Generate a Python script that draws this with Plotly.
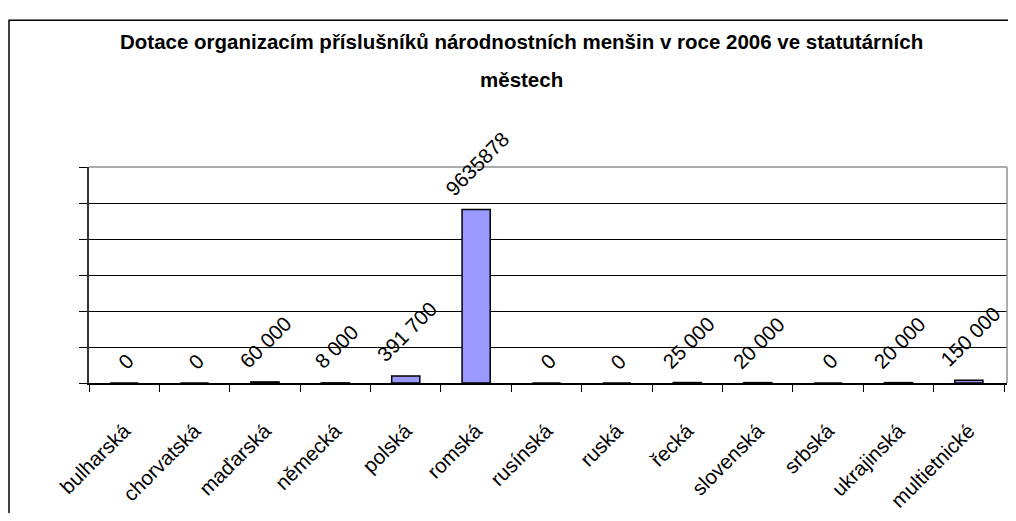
import plotly.graph_objects as go

categories = ["bulharská", "chorvatská", "maďarská", "německá", "polská", "romská",
              "rusínská", "ruská", "řecká", "slovenská", "srbská", "ukrajinská", "multietnické"]
values = [0, 0, 60000, 8000, 391700, 9635878, 0, 0, 25000, 20000, 0, 20000, 150000]
value_labels = ["0", "0", "60 000", "8 000", "391 700", "9635878", "0", "0",
                "25 000", "20 000", "0", "20 000", "150 000"]
title_line1 = "Dotace organizacím příslušníků národnostních menšin v roce 2006 ve statutárních"
title_line2 = "městech"

FONT = "Liberation Sans, Arial, sans-serif"
OFF = 8  # page body margin
W, H = 1000, 505
L, T = 89 - OFF, 167 - OFF
R = 1
B = H - (395 - OFF)
pw = W - L - R
ph = H - T - B

def px_x(x):
    return (x - OFF - L) / pw

def px_y(y):
    return (H - B - (y - OFF)) / ph

fig = go.Figure()
fig.add_trace(go.Bar(
    x=categories, y=values, width=0.4,
    marker=dict(color="#9999FF", line=dict(color="#000000", width=1.5)),
    hoverinfo="x+y",
))

for c, v, t in zip(categories, values, value_labels):
    fig.add_annotation(x=c, y=v, text=t, showarrow=False, textangle=-45,
                       xanchor="center", yanchor="bottom", yshift=7, xshift=1,
                       font=dict(family=FONT, size=20.5, color="#000000"))

fig.add_annotation(xref="paper", yref="paper", x=px_x(521), y=px_y(34), text="<b>%s</b>" % title_line1,
                   showarrow=False, xanchor="center", yanchor="middle",
                   font=dict(family=FONT, size=20.5, color="#000000"))
fig.add_annotation(xref="paper", yref="paper", x=px_x(521), y=px_y(75), text="<b>%s</b>" % title_line2,
                   showarrow=False, xanchor="center", yanchor="middle",
                   font=dict(family=FONT, size=20.5, color="#000000"))

# outer chart border
fig.add_shape(type="rect", xref="paper", yref="paper",
              x0=px_x(OFF + 1), y0=px_y(560), x1=px_x(1040), y1=px_y(12),
              line=dict(color="#000000", width=1.5), layer="above")
# plot area border (top and right)
fig.add_shape(type="line", xref="paper", yref="paper", x0=0, y0=1, x1=1, y1=1,
              line=dict(color="#909090", width=1.5), layer="above")
fig.add_shape(type="line", xref="paper", yref="paper", x0=1, y0=0, x1=1, y1=1,
              line=dict(color="#909090", width=1.5), layer="above")

fig.update_layout(
    width=W, height=H,
    margin=dict(l=L, r=R, t=T, b=B),
    paper_bgcolor="#ffffff", plot_bgcolor="#ffffff",
    showlegend=False,
    font=dict(family=FONT, size=20.5, color="#000000"),
)
fig.update_xaxes(
    type="category", tickangle=-45, tickson="boundaries",
    ticks="outside", ticklen=7, tickcolor="#000000", tickwidth=1,
    showline=True, linecolor="#000000", linewidth=1.5,
    showgrid=False, ticklabelstandoff=26,
    tickfont=dict(family=FONT, size=20.5, color="#000000"),
)
fig.update_yaxes(
    range=[0, 12000000], dtick=2000000, tick0=0,
    showticklabels=False, ticks="outside", ticklen=8, tickcolor="#000000",
    showline=True, linecolor="#333333", linewidth=2,
    showgrid=True, gridcolor="#000000", gridwidth=1, zeroline=False,
)

fig.write_html("out.html")
